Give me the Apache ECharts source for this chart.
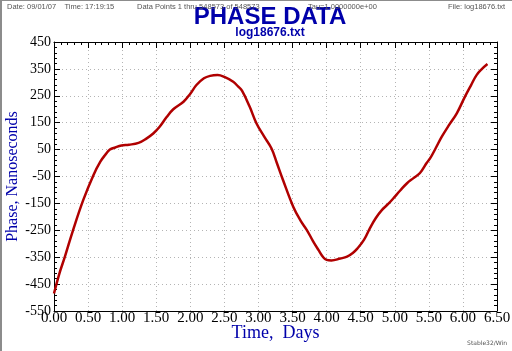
<!DOCTYPE html>
<html>
<head>
<meta charset="utf-8">
<script src="https://cdn.jsdelivr.net/npm/echarts@6/dist/echarts.min.js"></script>
<style>
html,body{margin:0;padding:0;background:#fff;}
#c{width:512px;height:351px;box-sizing:border-box;border-left:2px solid #8c8c8c;border-top:1px solid #8c8c8c;}
</style>
</head>
<body>
<div id="c"></div>
<script>
const timeDays = [0.00,0.08,0.16,0.28,0.43,0.58,0.68,0.75,0.82,0.90,0.99,1.10,1.24,1.35,1.46,1.55,1.65,1.75,1.90,2.00,2.09,2.20,2.29,2.40,2.50,2.63,2.70,2.76,2.87,2.97,3.08,3.19,3.27,3.36,3.51,3.62,3.71,3.80,3.88,3.95,4.00,4.07,4.20,4.30,4.38,4.45,4.55,4.64,4.72,4.81,4.90,4.98,5.08,5.18,5.27,5.37,5.47,5.52,5.60,5.69,5.80,5.91,6.03,6.12,6.20,6.28,6.36];
const phaseNs = [-485,-410,-348,-249,-137,-44,5,30,50,58,65,68,75,90,111,135,170,200,228,258,290,315,324,327,320,302,285,268,210,148,100,55,0,-63,-162,-215,-249,-290,-323,-350,-360,-362,-355,-348,-335,-318,-285,-240,-205,-175,-153,-131,-102,-75,-57,-37,1,18,55,98,143,185,247,290,327,350,368];
const yTicks = {min:-550, max:450, interval:100};
const xTicks = {min:0, max:6.5, interval:0.5};

const chart = echarts.init(document.getElementById('c'), null, {renderer:'canvas'});
const blue = '#0000aa';
const serif = 'Liberation Serif';
const hdr = {fontFamily:'Liberation Sans', fontSize:7.5, color:'#555', fontWeight:'normal'};
const pts = timeDays.map((t,i)=>[t, phaseNs[i]]);
const tickCommon = {inside:true, length:6, lineStyle:{color:'#000', width:1}};
const minorCommon = {show:true, splitNumber:5, length:3, lineStyle:{color:'#000', width:1}};
chart.setOption({
  animation:false,
  title:[
    {text:'Date: 09/01/07    Time: 17:19:15', left:0, top:-3, textStyle:hdr},
    {text:'Data Points 1 thru 548573 of 548573', left:130, top:-3, textStyle:hdr},
    {text:'Tau=1.0000000e+00', left:301, top:-3, textStyle:hdr},
    {text:'File: log18676.txt', left:441, top:-3, textStyle:hdr},
    {text:'Stable32/Win', right:0, bottom:0, textStyle:{fontFamily:'DejaVu Sans', fontSize:6, color:'#555', fontWeight:'normal'}}
  ],
  graphic:[
    {type:'text', x:268, y:16, style:{text:'PHASE DATA', font:'bold 24px "Liberation Sans"', fill:blue, align:'center', verticalAlign:'middle', textAlign:'center', textVerticalAlign:'middle'}},
    {type:'text', x:268, y:32, style:{text:'log18676.txt', font:'bold 12px "Liberation Sans"', fill:blue, align:'center', verticalAlign:'middle', textAlign:'center', textVerticalAlign:'middle'}}
  ],
  grid:{left:52, right:15, top:41, bottom:40, containLabel:false, outerBoundsMode:'none'},
  xAxis:[
    {type:'value', position:'bottom', min:xTicks.min, max:xTicks.max, interval:xTicks.interval,
     name:'Time,  Days', nameLocation:'middle', nameGap:13, nameMoveOverlap:false,
     nameTextStyle:{fontFamily:serif, fontSize:18, color:blue},
     axisLine:{show:true, onZero:false, lineStyle:{color:'#000', width:1}},
     axisTick:{show:false}, minorTick:{show:false},
     axisLabel:{fontFamily:serif, fontSize:15, color:'#000', margin:0, formatter:v=>v.toFixed(2)},
     splitLine:{show:true, lineStyle:{type:[1,3], color:'#b4b4b4', width:1}}},
    {type:'value', position:'top', min:xTicks.min, max:xTicks.max, interval:xTicks.interval,
     axisLine:{show:true, onZero:false, lineStyle:{color:'#000', width:1}},
     axisTick:tickCommon, minorTick:minorCommon, axisLabel:{show:false}, splitLine:{show:false}}
  ],
  yAxis:[
    {type:'value', position:'left', min:yTicks.min, max:yTicks.max, interval:yTicks.interval,
     name:'Phase, Nanoseconds', nameLocation:'middle', nameGap:33, nameMoveOverlap:false,
     nameTextStyle:{fontFamily:serif, fontSize:16, color:blue},
     axisLine:{show:true, onZero:false, lineStyle:{color:'#000', width:1}},
     axisTick:tickCommon, minorTick:minorCommon,
     axisLabel:{fontFamily:serif, fontSize:14, color:'#000', margin:3},
     splitLine:{show:true, lineStyle:{type:[1,3], color:'#b4b4b4', width:1}}},
    {type:'value', position:'right', min:yTicks.min, max:yTicks.max, interval:yTicks.interval,
     axisLine:{show:true, onZero:false, lineStyle:{color:'#000', width:1}},
     axisTick:tickCommon, minorTick:minorCommon, axisLabel:{show:false}, splitLine:{show:false}}
  ],
  series:[{type:'line', data:pts, xAxisIndex:0, yAxisIndex:0, smooth:0.4, showSymbol:false,
    lineStyle:{color:'#b00000', width:2.5}}]
});
</script>
</body>
</html>
